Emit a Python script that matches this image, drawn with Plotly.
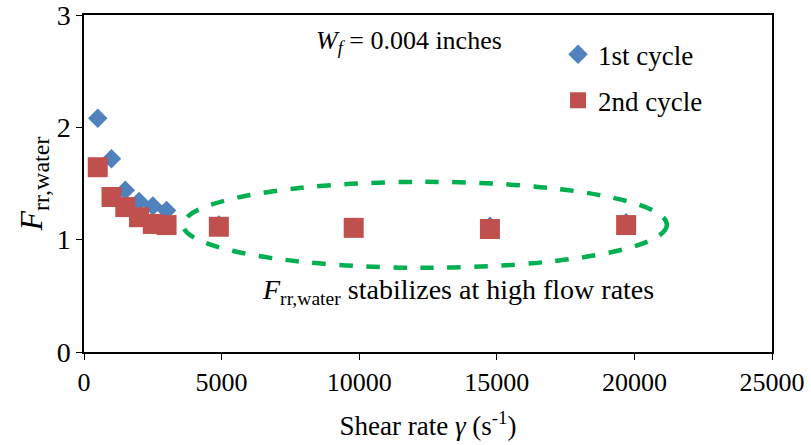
import plotly.graph_objects as go

# Data
shear_rate_1 = [500, 1000, 1500, 2000, 2500, 3000, 4900, 9800, 14750, 19700]
frr_cycle1 = [2.08, 1.72, 1.44, 1.34, 1.30, 1.26, 1.13, 1.11, 1.12, 1.15]
shear_rate_2 = [500, 1000, 1500, 2000, 2500, 3000, 4900, 9800, 14750, 19700]
frr_cycle2 = [1.645, 1.38, 1.29, 1.20, 1.14, 1.13, 1.115, 1.105, 1.095, 1.13]
series_names = ["1st cycle", "2nd cycle"]
x_ticks = [0, 5000, 10000, 15000, 20000, 25000]
y_ticks = [0, 1, 2, 3]

FONT = "Liberation Serif"

fig = go.Figure()
fig.add_trace(go.Scatter(
    x=shear_rate_1, y=frr_cycle1, mode="markers", name=series_names[0],
    legendgroup="a",
    marker=dict(symbol="diamond", size=15, color="#4F81BD",
                line=dict(width=0))))
fig.add_trace(go.Scatter(
    x=shear_rate_2, y=frr_cycle2, mode="markers", name=series_names[1],
    legendgroup="b",
    marker=dict(symbol="square", size=20, color="#C0504D",
                line=dict(width=0))))

# Ellipse highlighting the stable region
fig.add_shape(type="circle", xref="x", yref="y",
              x0=3600, x1=21180, y0=0.75, y1=1.515,
              line=dict(color="#00B050", width=4.5, dash="dash"),
              fillcolor="rgba(0,0,0,0)")

fig.add_annotation(x=0.335, y=0.92, xref="paper", yref="paper",
                   text="<i>W</i><sub><i>f</i></sub> = 0.004 inches",
                   showarrow=False, xanchor="left", yanchor="middle",
                   font=dict(family=FONT, size=26, color="black"))
fig.add_annotation(x=0.256, y=0.18, xref="paper", yref="paper",
                   text="<i>F</i><sub>rr,water</sub> stabilizes at high flow rates",
                   showarrow=False, xanchor="left", yanchor="middle",
                   font=dict(family=FONT, size=28, color="black"))

fig.update_layout(
    width=811, height=445,
    margin=dict(l=84, r=39, t=15, b=93, autoexpand=False),
    paper_bgcolor="white", plot_bgcolor="white",
    font=dict(family=FONT, size=26, color="black"),
    showlegend=True,
    legend=dict(x=0.689, y=0.955, xanchor="left", yanchor="top",
                bgcolor="rgba(0,0,0,0)", traceorder="grouped",
                tracegroupgap=8, itemwidth=30,
                font=dict(family=FONT, size=27, color="black")),
    xaxis=dict(range=[0, 25000], tickvals=x_ticks, tickformat="d",
               showline=True, linecolor="black", linewidth=1.5, mirror=True,
               ticks="outside", ticklen=6, tickcolor="black", showgrid=False,
               zeroline=False, tickfont=dict(family=FONT, size=26),
               automargin=False, ticklabeloverflow="allow",
               title=dict(text="Shear rate <i>γ</i> (s<sup>-1</sup>)",
                          font=dict(family=FONT, size=27), standoff=20)),
    yaxis=dict(range=[0, 3], tickvals=y_ticks,
               showline=True, linecolor="black", linewidth=1.5, mirror=True,
               ticks="outside", ticklen=6, tickcolor="black", showgrid=False,
               zeroline=False, tickfont=dict(family=FONT, size=28),
               automargin=False, ticklabeloverflow="allow",
               title=dict(text="<i>F</i><sub><span style='font-size:24px'>rr,water</span></sub>",
                          font=dict(family=FONT, size=32), standoff=4)),
)

fig.write_html("out.html")
